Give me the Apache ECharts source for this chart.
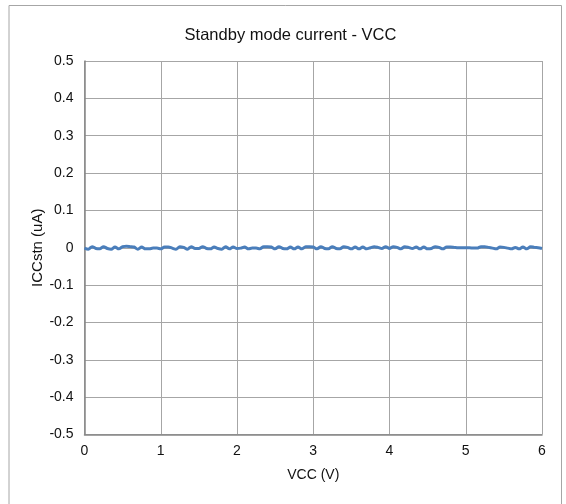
<!DOCTYPE html>
<html>
<head>
<meta charset="utf-8">
<script src="https://cdn.jsdelivr.net/npm/echarts@6/dist/echarts.min.js"></script>
<style>
html,body{margin:0;padding:0;background:#fff;}
#chart{width:566px;height:504px;}
</style>
</head>
<body>
<div id="chart"></div>
<script>
var titleText = 'Standby mode current - VCC';
var xAxisName = 'VCC (V)';
var yAxisName = 'ICCstn (uA)';
var vccStart = 0;
var vccStep = 0.05;
var iccValues = [
  -0.001, -0.004, 0.003, -0.002, -0.003, 0.003, -0.002, -0.004, 0.002, -0.003,
  0.003, 0.004, 0.003, 0.002, -0.004, 0.002, -0.003, -0.003, -0.001, -0.001,
  -0.003, 0.002, 0.002, -0.001, -0.004, 0.003, 0.001, -0.004, 0.003, -0.002,
  -0.002, 0.003, -0.002, -0.003, 0.002, -0.002, -0.004, 0.003, -0.003, 0.002,
  -0.002, -0.001, 0.002, -0.003, -0.001, -0.001, -0.003, 0.003, 0.003, 0.002,
  -0.003, 0.003, -0.002, -0.003, 0.002, -0.003, 0.002, -0.003, 0.003, 0.003,
  0.002, -0.003, 0.003, -0.002, -0.003, 0.003, -0.002, -0.003, 0.003, 0.001,
  -0.003, 0.002, -0.003, 0.002, -0.003, 0.000, 0.003, 0.001, -0.002, 0.003,
  -0.002, 0.003, 0.001, -0.003, 0.003, 0.001, -0.002, 0.002, -0.003, 0.002,
  -0.003, -0.002, 0.003, 0.001, -0.003, 0.002, 0.002, 0.001, 0.000, 0.000,
  0.000, 0.000, -0.001, -0.001, 0.003, 0.003, 0.001, -0.001, -0.003, 0.002,
  0.001, -0.001, -0.003, 0.001, -0.003, 0.002, -0.003, 0.003, 0.001, 0.000,
  -0.002
];
var seriesData = iccValues.map(function (v, i) {
  return [+(vccStart + i * vccStep).toFixed(2), v];
});

var chart = echarts.init(document.getElementById('chart'), null, {renderer: 'canvas'});
var font = "'Liberation Sans', Arial, sans-serif";
chart.setOption({
  animation: false,
  backgroundColor: '#ffffff',
  graphic: [{
    type: 'rect',
    shape: {x: 9, y: 5.5, width: 552.5, height: 520},
    style: {fill: 'none', stroke: '#a6a6a6', lineWidth: 1},
    silent: true
  }],
  title: {
    text: titleText,
    left: 285.5,
    top: 22,
    textAlign: 'center',
    textStyle: {fontFamily: font, fontSize: 16.5, fontWeight: 'normal', color: '#111'}
  },
  grid: {left: 84.5, right: 24, top: 61, bottom: 69.5, containLabel: false},
  xAxis: {
    type: 'value',
    min: 0, max: 6, interval: 1,
    name: xAxisName,
    nameLocation: 'middle',
    nameGap: 34,
    nameMoveOverlap: false,
    nameTextStyle: {fontFamily: font, fontSize: 14, color: '#111'},
    axisLine: {show: true, onZero: false, lineStyle: {color: '#868686', width: 1.5}},
    axisTick: {show: false},
    axisLabel: {fontFamily: font, fontSize: 14, color: '#111', margin: 10},
    splitLine: {show: true, lineStyle: {color: '#a6a6a6', width: 1}}
  },
  yAxis: {
    type: 'value',
    min: -0.5, max: 0.5, interval: 0.1,
    name: yAxisName,
    nameLocation: 'middle',
    nameRotate: 90,
    nameGap: 39,
    nameMoveOverlap: false,
    nameTextStyle: {fontFamily: font, fontSize: 15, color: '#111'},
    axisLine: {show: true, lineStyle: {color: '#868686', width: 1.5}},
    axisTick: {show: false},
    axisLabel: {
      fontFamily: font, fontSize: 14, color: '#111', margin: 11,
      formatter: function (v) { return String(Math.round(v * 10) / 10); }
    },
    splitLine: {show: true, lineStyle: {color: '#a6a6a6', width: 1}}
  },
  series: [{
    type: 'line',
    data: seriesData,
    showSymbol: false,
    smooth: 0.3,
    lineStyle: {color: '#4a7ebb', width: 3},
    itemStyle: {color: '#4a7ebb'}
  }]
});
</script>
</body>
</html>
